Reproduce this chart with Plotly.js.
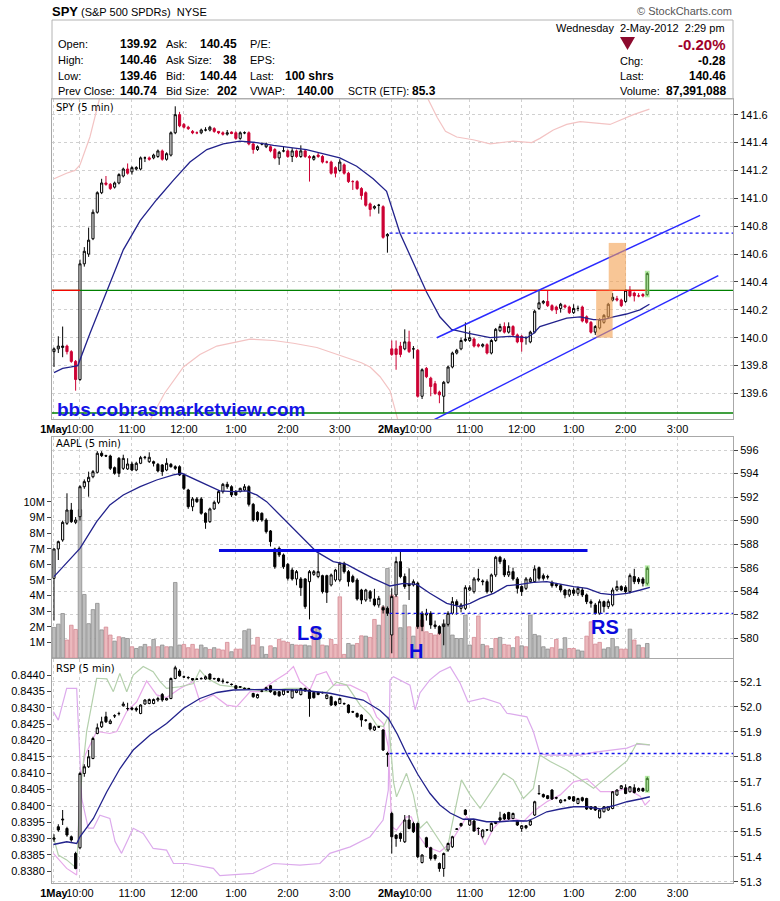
<!DOCTYPE html>
<html><head><meta charset="utf-8">
<script src="https://cdn.plot.ly/plotly-3.0.1.min.js"></script>
<style>html,body{margin:0;padding:0;background:#fff;}#chart{width:780px;height:901px;}</style>
</head><body><div id="chart"></div>
<script>
// ================= DATA =================
// 5-minute bars: 1 May 9:30 .. 4:00 (78 bars) then 2 May 9:30 .. 2:25 (60 bars)
const tickBars = [0,6,18,30,42,54,66,78,84,96,108,120,132,144];
const tickText = ['<b>1May</b>','10:00','11:00','12:00','1:00','2:00','3:00','<b>2May</b>','10:00','11:00','12:00','1:00','2:00','3:00'];

// ---- SPY ----
const spyOpen = [139.90,139.92,139.93,139.94,139.90,139.83,139.70,140.53,140.60,140.71,
140.90,141.04,141.11,141.10,141.08,141.11,141.16,141.21,141.19,141.21,
141.21,141.29,141.29,141.29,141.30,141.34,141.28,141.31,141.47,141.60,
141.53,141.51,141.48,141.47,141.47,141.49,141.49,141.50,141.48,141.47,
141.46,141.475,141.47,141.43,141.47,141.47,141.39,141.35,141.39,141.37,
141.37,141.35,141.29,141.34,141.34,141.30,141.34,141.30,141.34,141.30,
141.28,141.31,141.30,141.26,141.26,141.22,141.20,141.24,141.18,141.12,
141.12,141.07,141.04,140.96,140.93,140.95,140.94,140.73,
139.92,139.92,139.94,139.92,139.97,139.92,139.91,139.58,139.78,139.71,
139.67,139.61,139.58,139.68,139.79,139.89,139.92,139.98,139.98,139.99,
139.95,139.94,139.95,139.89,139.98,140.05,140.08,140.04,140.08,140.02,
140.01,140.00,139.97,140.04,140.21,140.25,140.26,140.23,140.22,140.21,
140.23,140.22,140.18,140.21,140.22,140.15,140.11,140.04,140.07,140.11,
140.15,140.27,140.28,140.27,140.26,140.34,140.32,140.30,140.31,140.31];
const spyHigh = [139.93,140.01,140.08,139.95,139.91,139.84,140.56,140.65,140.79,140.92,
141.05,141.14,141.16,141.11,141.12,141.18,141.22,141.25,141.23,141.23,
141.30,141.30,141.30,141.32,141.35,141.35,141.33,141.48,141.66,141.62,
141.54,141.52,141.49,141.48,141.50,141.51,141.52,141.51,141.48,141.48,
141.49,141.48,141.48,141.48,141.48,141.48,141.40,141.38,141.40,141.40,
141.38,141.36,141.34,141.37,141.35,141.36,141.35,141.38,141.35,141.31,
141.31,141.33,141.31,141.27,141.27,141.23,141.28,141.25,141.19,141.13,
141.13,141.08,141.05,140.97,140.95,140.96,140.95,140.75,
139.98,139.98,139.97,140.06,140.05,139.94,139.92,139.78,139.79,139.72,
139.69,139.62,139.69,139.80,139.90,139.92,140.00,140.11,140.05,140.00,
139.96,139.96,139.96,139.99,140.07,140.10,140.11,140.11,140.09,140.03,
140.02,140.01,140.05,140.20,140.34,140.27,140.34,140.24,140.23,140.25,
140.24,140.23,140.24,140.23,140.23,140.16,140.12,140.09,140.14,140.17,
140.25,140.32,140.30,140.28,140.35,140.37,140.33,140.32,140.32,140.47];
const spyLow = [139.79,139.89,139.86,139.88,139.82,139.62,139.69,140.51,140.58,140.70,
140.89,141.03,141.09,141.06,141.07,141.10,141.15,141.17,141.17,141.20,
141.20,141.26,141.27,141.28,141.29,141.27,141.27,141.30,141.46,141.51,
141.50,141.49,141.46,141.46,141.46,141.48,141.48,141.47,141.46,141.45,
141.45,141.46,141.42,141.42,141.46,141.38,141.32,141.34,141.38,141.36,
141.33,141.28,141.24,141.33,141.29,141.26,141.29,141.29,141.29,141.12,
141.27,141.29,141.25,141.25,141.17,141.15,141.19,141.17,141.11,141.06,
141.06,140.99,140.94,140.87,140.92,140.89,140.71,140.61,
139.87,139.77,139.86,139.91,139.89,139.85,139.57,139.56,139.71,139.58,
139.59,139.53,139.46,139.67,139.78,139.88,139.91,139.97,139.97,139.93,
139.93,139.93,139.88,139.88,139.97,140.04,140.03,140.03,140.01,139.96,
139.90,139.95,139.96,140.03,140.20,140.24,140.22,140.19,140.17,140.18,
140.21,140.17,140.17,140.19,140.11,140.10,140.03,140.02,140.06,140.10,
140.14,140.26,140.26,140.22,140.25,140.29,140.26,140.29,140.29,140.30];
const spyClose = [139.92,139.94,139.94,139.90,139.83,139.70,140.53,140.62,140.70,140.90,
141.04,141.11,141.10,141.07,141.11,141.17,141.21,141.18,141.22,141.22,
141.29,141.29,141.28,141.31,141.34,141.28,141.32,141.47,141.60,141.52,
141.51,141.50,141.47,141.47,141.49,141.49,141.51,141.48,141.47,141.46,
141.47,141.465,141.43,141.47,141.47,141.39,141.35,141.37,141.39,141.39,
141.34,141.29,141.33,141.34,141.30,141.34,141.30,141.34,141.30,141.29,
141.30,141.30,141.26,141.26,141.18,141.18,141.26,141.18,141.12,141.12,
141.07,141.02,140.95,140.92,140.94,140.95,140.72,140.74,
139.88,139.88,139.88,139.97,139.90,139.92,139.58,139.77,139.72,139.65,
139.60,139.59,139.68,139.79,139.89,139.91,139.98,139.99,140.00,139.94,
139.94,139.95,139.89,139.98,140.06,140.08,140.04,140.08,140.02,139.97,
139.97,140.00,140.04,140.19,140.25,140.26,140.23,140.20,140.20,140.24,
140.22,140.18,140.21,140.21,140.12,140.11,140.04,140.08,140.13,140.16,
140.24,140.29,140.27,140.23,140.34,140.30,140.30,140.30,140.30,140.46];
// SPY moving average [bar, price]
const spyMA = [[0,139.75],[2,139.78],[4,139.79],[5.5,139.80],[8.3,140.03],[12.2,140.34],[16.0,140.63],[19.9,140.84],[23.7,140.99],[27.6,141.13],[31.4,141.26],[35.3,141.35],[39.1,141.39],[42.9,141.41],[46.8,141.40],[50.7,141.38],[58.3,141.35],[66.0,141.29],[69.9,141.23],[73.7,141.14],[76.8,141.05],[79.9,140.75],[83.7,140.49],[86.0,140.33],[89.1,140.15],[91.8,140.06],[96.1,140.03],[100.7,140.00],[105.3,140.01],[109.2,140.00],[110.7,140.03],[112.2,140.08],[115.3,140.11],[118.4,140.14],[121.5,140.15],[124.6,140.13],[126.9,140.13],[129.2,140.15],[132.2,140.17],[135.3,140.20],[137.5,140.24]];
// SPY pale bands [bar, price]; null splits the sessions
const spyBandUpper = [[0,141.14],[2.9,141.18],[4.85,141.20],[6.0,141.24],[8.3,141.44],[10.6,141.71],[12,141.90],null,
 [85.5,141.90],[86.4,141.71],[88.5,141.58],[90.4,141.48],[93.0,141.44],[96.8,141.42],[100.7,141.39],[103.8,141.40],[106.0,141.41],[110.3,141.40],[112.2,141.43],[115.3,141.49],[118.4,141.53],[121.5,141.55],[124.6,141.54],[128.4,141.53],[130.7,141.56],[133.8,141.60],[137.5,141.64]];
const spyBandLower = [[22.2,139.41],[25.5,139.60],[29.9,139.79],[33.7,139.88],[37.6,139.94],[45.3,139.99],[50.7,139.98],[55.3,139.96],[60.7,139.93],[64.5,139.89],[68.4,139.85],[71.0,139.82],[73.0,139.79],[75.3,139.72],[77.6,139.62],[79.4,139.41]];
const spyLevel = 140.34, spyLowLine = 139.46, spyPrevClose = 140.75;
const spyRedSegments = [[-0.46,6],[78,137]];
const spyChannel = [[88.4,140.00,149.2,140.878],[86.4,139.39,153.4,140.445]];
const spyBoxX0 = [125.2,128.1], spyBoxX1 = [129.0,132.1], spyBoxY0 = [140.00,140.34], spyBoxY1 = [140.34,140.68];

// ---- AAPL ----
const aaplOpen = [585.09,587.59,588.35,589.77,590.90,589.85,590.33,592.88,593.31,593.73,
594.10,595.72,595.52,595.49,594.50,595.29,594.44,594.39,594.81,594.30,
594.87,595.35,595.01,595.01,594.78,594.73,594.30,594.78,594.58,594.58,
593.88,592.60,591.18,591.84,591.84,590.62,589.91,590.99,591.55,592.46,
593.08,592.88,592.46,592.46,592.60,592.88,591.38,590.70,590.62,590.05,
589.12,587.59,587.64,587.08,586.28,585.80,585.04,585.04,585.04,584.81,
585.43,585.24,585.32,585.32,584.53,584.95,584.95,586.37,585.66,585.24,
584.95,584.10,583.25,583.96,583.34,582.83,582.60,582.54,
580.28,583.68,586.51,585.24,584.60,584.53,584.67,582.12,581.98,582.12,
581.13,580.99,580.99,581.18,582.12,583.11,582.54,582.54,584.10,583.96,
584.95,584.87,584.81,583.96,585.38,586.88,586.65,585.38,585.66,585.04,
584.39,584.24,584.81,584.81,586.00,585.32,585.24,584.75,584.58,584.47,
584.10,583.68,584.10,583.82,584.10,583.68,583.11,582.83,582.12,583.11,
582.69,582.83,584.10,584.39,584.33,583.96,585.24,585.04,585.04,584.67];
const aaplHigh = [587.64,588.30,590.00,592.32,591.50,590.30,593.00,593.50,594.16,594.30,
595.90,595.90,595.60,595.60,594.60,595.40,595.60,595.30,595.00,595.00,
595.50,595.50,595.80,595.10,594.90,594.80,595.30,594.90,594.70,594.70,
594.00,592.70,592.00,592.00,592.00,590.70,591.10,591.70,592.60,593.20,
593.30,593.00,592.60,592.80,593.10,593.00,591.50,590.80,590.70,590.20,
589.20,587.70,587.80,587.20,586.40,586.00,585.80,585.20,585.10,585.80,
585.80,587.22,585.40,585.40,585.50,585.90,586.50,586.50,585.80,585.40,
585.10,584.20,584.20,584.10,584.20,583.60,582.80,582.70,
584.24,586.93,587.36,585.50,585.94,585.00,584.80,582.30,582.50,582.30,
581.50,581.10,581.60,582.30,583.50,583.30,583.00,584.50,584.50,585.20,
585.90,585.00,585.00,585.50,587.00,587.00,586.80,586.20,586.00,585.20,
584.50,585.20,585.20,586.20,586.10,585.50,585.40,584.90,584.70,584.60,
584.20,584.20,584.30,584.40,584.30,583.80,583.30,583.00,583.30,583.20,
583.30,584.30,584.90,584.50,584.50,585.50,585.90,585.20,585.20,586.10];
const aaplLow = [581.50,586.65,588.20,589.63,589.80,589.70,590.00,592.70,592.03,593.60,
594.00,595.40,595.40,594.30,593.90,593.70,594.30,594.30,594.20,594.20,
594.80,595.20,594.90,594.60,594.10,593.80,594.20,594.50,594.30,593.80,
592.60,591.00,590.80,591.50,590.50,589.30,589.80,590.90,591.40,592.30,
592.70,592.00,592.10,592.40,592.50,591.20,589.90,589.90,589.90,588.90,
587.80,585.90,586.90,585.90,584.90,584.90,584.50,583.60,582.50,581.60,
585.30,585.10,583.80,583.00,584.40,584.80,584.80,585.50,584.40,584.70,
583.20,582.90,583.10,583.10,582.70,582.60,582.10,581.90,
578.72,583.50,585.10,584.20,583.25,584.40,580.80,580.60,581.50,580.80,
580.80,580.30,579.40,581.00,582.00,582.00,582.20,582.40,584.00,583.80,
584.80,584.50,583.80,583.80,585.20,586.30,585.20,585.20,584.90,583.80,
583.60,584.10,584.70,584.70,584.90,584.90,585.00,584.30,584.30,583.90,
583.40,583.50,583.60,583.60,583.50,582.90,582.60,582.00,582.00,582.20,
582.50,582.70,584.00,584.00,583.80,583.80,584.60,584.60,584.40,584.50];
const aaplClose = [587.59,588.21,589.85,590.90,589.91,590.05,592.88,593.31,593.68,594.16,
595.72,595.52,595.49,594.44,594.02,594.02,595.29,594.81,594.30,594.87,
595.35,595.38,595.38,594.87,594.22,594.16,594.87,594.58,594.44,593.88,
592.74,591.18,591.84,591.61,590.62,589.85,590.99,591.55,592.46,593.08,
592.88,592.18,592.18,592.74,592.88,591.38,590.05,590.05,590.05,589.06,
588.21,586.08,587.08,586.08,585.09,585.04,585.66,584.30,582.69,585.66,
585.66,585.66,583.96,583.90,585.38,585.80,586.37,585.66,584.81,584.81,
583.34,583.25,584.10,583.39,582.83,583.39,582.40,582.12,
583.54,586.51,585.24,584.39,584.47,584.81,580.99,580.99,582.12,581.13,
580.99,580.42,581.18,582.12,583.11,582.83,582.83,584.30,584.30,585.04,
585.04,584.81,583.96,585.38,586.88,586.51,585.38,585.66,585.04,584.24,
583.96,585.04,585.04,585.89,585.09,585.09,585.20,584.47,584.47,584.10,
583.68,584.10,583.82,584.24,583.68,583.11,582.97,582.12,583.11,582.69,
583.11,584.10,584.39,584.10,583.96,585.32,584.81,584.81,584.67,585.94];
// AAPL volume in millions, and bar tint (g = grey/up, p = pink/down)
const aaplVolume = [1.96,2.17,2.85,1.15,2.10,1.83,9.50,4.07,2.20,3.10,
3.50,1.80,1.98,1.47,1.08,1.36,1.30,1.25,0.72,0.61,
0.72,0.87,0.72,1.19,0.72,0.83,0.72,0.72,4.84,0.83,
0.87,0.66,0.87,0.57,0.83,0.66,0.55,0.66,0.57,0.51,
1.00,0.40,0.57,0.57,1.75,1.85,0.83,1.32,0.72,0.23,
0.78,0.66,1.20,1.08,1.00,0.87,0.83,0.83,0.83,0.78,
2.00,1.90,0.83,0.78,1.19,0.87,3.92,0.23,0.93,0.83,
0.93,1.42,1.40,1.32,2.47,2.10,3.28,5.74,
4.03,3.93,1.94,3.39,2.00,1.40,2.00,2.43,1.68,1.57,
1.47,1.57,2.20,2.75,1.47,1.25,1.25,2.75,0.83,1.32,
2.69,0.87,0.78,0.61,1.25,1.32,0.87,0.83,0.66,1.36,
0.78,0.72,2.75,1.51,1.42,0.72,0.57,0.66,1.19,0.57,
1.30,0.61,0.61,0.51,0.44,1.40,2.32,0.89,1.00,0.57,
0.66,1.25,0.72,0.57,0.57,1.85,1.15,0.83,0.66,0.93];
const aaplVolumeTint = "gggpppggggggppgpggpgggpgpgpgggppppggpgpppgppggppggpgpppgppggpgpgppppggppgppgpg" +
                       "ppggpgppppppgggggggppgpgpgppgpgpgggggppggppggppppggggppgpgpg";
const volumeTicks = [1,2,3,4,5,6,7,8,9,10];
const aaplMA = [[0,585.24],[2.9,586.37],[6.0,587.64],[9.85,589.91],[12.9,591.33],[16.0,592.18],[19.9,592.88],[23.7,593.45],[27.6,593.88],[29.5,594.02],[32.2,593.59],[35.3,593.03],[38.3,592.52],[41.4,592.46],[44.5,592.52],[46.8,592.18],[49.1,591.61],[52.9,590.19],[56.8,588.78],[60.6,587.36],[64.5,586.51],[67.6,586.28],[70.7,585.66],[73.7,585.09],[77.6,584.44],[80.7,584.67],[83.8,584.58],[86.8,583.82],[90.7,582.97],[93.7,582.69],[96.1,582.97],[98.4,583.39],[101.5,583.82],[104.6,584.47],[107.7,584.58],[110.7,584.75],[113.8,584.81],[116.9,584.58],[120.0,584.39],[123.1,584.24],[126.2,583.82],[129.3,583.68],[132.3,583.82],[135.4,584.10],[137.6,584.33]];
const aaplNeckline = [38.1,123.2,587.45];
const aaplPrevClose = 582.12;
const patternText = ['LS','H','RS'], patternBar = [59.1,83.6,127.3], patternPrice = [580.45,578.92,580.96];

// ---- RSP ----
const rspOpen = [51.47,51.52,51.547,51.513,51.48,51.413,51.436,51.733,51.76,51.793,
51.893,51.92,51.96,51.933,51.963,51.972,52.004,51.992,51.995,51.993,
51.973,52.011,52.013,52.013,52.027,52.049,52.027,52.033,52.113,52.143,
52.12,52.116,52.113,52.111,52.113,52.111,52.131,52.113,52.113,52.103,
52.098,52.09,52.084,52.08,52.074,52.073,52.053,52.036,52.063,52.076,
52.084,52.06,52.06,52.049,52.06,52.036,52.057,52.049,52.063,52.067,
52.057,52.049,52.057,52.033,52.04,52.02,52.013,52.013,52.007,51.98,
51.973,51.967,51.947,51.933,51.907,51.92,51.907,51.809,
51.573,51.487,51.493,51.46,51.547,51.533,51.533,51.377,51.476,51.436,
51.407,51.373,51.353,51.427,51.44,51.51,51.533,51.587,51.527,51.543,
51.514,51.48,51.508,51.503,51.533,51.556,51.569,51.577,51.553,51.543,
51.513,51.524,51.527,51.567,51.652,51.649,51.644,51.667,51.636,51.617,
51.627,51.64,51.64,51.613,51.636,51.633,51.60,51.60,51.556,51.58,
51.587,51.593,51.647,51.673,51.676,51.66,51.676,51.663,51.673,51.663];
const rspHigh = [51.49,51.53,51.587,51.52,51.485,51.42,51.74,51.77,51.827,51.88,
51.933,51.96,51.98,51.95,51.97,51.98,52.02,52.016,52.0,52.0,
52.01,52.03,52.033,52.033,52.04,52.055,52.036,52.117,52.164,52.15,
52.125,52.122,52.115,52.115,52.118,52.125,52.133,52.116,52.116,52.113,
52.10,52.093,52.087,52.083,52.077,52.076,52.056,52.052,52.068,52.08,
52.087,52.063,52.063,52.07,52.064,52.07,52.07,52.076,52.077,52.07,
52.06,52.06,52.06,52.05,52.044,52.024,52.036,52.017,52.01,51.984,
51.977,51.97,51.95,51.937,51.925,51.923,51.91,51.82,
51.58,51.49,51.497,51.567,51.567,51.54,51.537,51.41,51.48,51.44,
51.41,51.377,51.417,51.457,51.484,51.515,51.536,51.59,51.55,51.547,
51.517,51.51,51.51,51.537,51.543,51.58,51.575,51.58,51.577,51.547,
51.527,51.527,51.547,51.624,51.687,51.653,51.647,51.67,51.64,51.63,
51.63,51.643,51.643,51.636,51.64,51.636,51.603,51.603,51.59,51.603,
51.603,51.663,51.67,51.687,51.69,51.683,51.69,51.677,51.677,51.72];
const rspLow = [51.46,51.50,51.527,51.48,51.46,51.35,51.43,51.72,51.755,51.79,
51.89,51.915,51.935,51.93,51.955,51.965,52.0,51.985,51.985,51.98,
51.97,52.008,52.01,52.01,52.02,52.02,52.025,52.03,52.11,52.12,
52.115,52.11,52.105,52.107,52.11,52.108,52.108,52.108,52.10,52.093,
52.093,52.085,52.07,52.075,52.07,52.068,52.036,52.033,52.058,52.064,
52.056,52.045,52.04,52.045,52.055,52.032,52.054,52.045,52.06,51.96,
52.033,52.046,52.053,52.03,52.003,52.003,52.01,52.008,51.973,51.975,
51.956,51.92,51.94,51.905,51.903,51.915,51.823,51.76,
51.413,51.44,51.46,51.455,51.51,51.495,51.395,51.373,51.435,51.385,
51.385,51.34,51.32,51.42,51.435,51.507,51.52,51.565,51.523,51.50,
51.487,51.473,51.503,51.50,51.53,51.543,51.547,51.547,51.55,51.523,
51.50,51.51,51.523,51.563,51.648,51.636,51.63,51.627,51.63,51.613,
51.62,51.627,51.62,51.61,51.62,51.587,51.587,51.583,51.553,51.577,
51.583,51.59,51.643,51.67,51.65,51.657,51.653,51.66,51.66,51.66];
const rspClose = [51.475,51.507,51.55,51.487,51.467,51.353,51.733,51.76,51.80,51.873,
51.916,51.94,51.94,51.943,51.964,51.973,52.011,51.993,51.99,51.987,
52.007,52.027,52.029,52.029,52.033,52.027,52.033,52.113,52.156,52.124,
52.119,52.117,52.107,52.11,52.112,52.12,52.111,52.112,52.103,52.102,
52.097,52.089,52.073,52.079,52.073,52.072,52.04,52.049,52.062,52.067,
52.06,52.049,52.044,52.067,52.059,52.067,52.067,52.073,52.073,52.033,
52.036,52.057,52.056,52.047,52.007,52.007,52.033,52.012,51.977,51.979,
51.96,51.947,51.946,51.911,51.92,51.919,51.827,51.813,
51.48,51.473,51.473,51.547,51.513,51.50,51.40,51.407,51.44,51.393,
51.393,51.353,51.413,51.453,51.48,51.511,51.524,51.569,51.547,51.503,
51.513,51.507,51.507,51.533,51.54,51.547,51.551,51.551,51.573,51.527,
51.524,51.516,51.544,51.62,51.653,51.64,51.633,51.631,51.635,51.627,
51.626,51.631,51.623,51.633,51.625,51.591,51.591,51.587,51.587,51.60,
51.60,51.66,51.667,51.684,51.653,51.68,51.657,51.673,51.663,51.713];
const rspMA = [[-0.15,51.449],[2.93,51.46],[5.24,51.453],[6.0,51.48],[9.1,51.553],[12.2,51.66],[15.25,51.753],[18.3,51.827],[22.2,51.887],[26.0,51.933],[29.9,51.993],[33.7,52.033],[37.6,52.057],[41.4,52.067],[49.1,52.069],[56.8,52.067],[63.7,52.054],[67.6,52.04],[71.4,52.027],[75.3,51.985],[77.2,51.954],[79.3,51.89],[81.4,51.813],[84.0,51.73],[86.8,51.654],[89.1,51.607],[91.5,51.575],[94.5,51.55],[96.9,51.551],[99.9,51.54],[103.0,51.54],[106.1,51.544],[109.2,51.543],[110.7,51.553],[113.8,51.58],[116.9,51.591],[120.0,51.60],[123.1,51.60],[126.2,51.591],[129.2,51.604],[132.3,51.62],[135.4,51.631],[137.6,51.64]];
const rspPrevClose = 51.813;
// left-scale lines (RSP relative line and its two envelopes)
const rspRatio = [[-0.15,0.83905],[1.0,0.83849],[2.93,0.83834],[5.24,0.83808],[6.0,0.84033],[7.54,0.84227],[9.85,0.8439],[12.2,0.84388],[13.7,0.84349],[15.2,0.84405],[16.8,0.84349],[18.3,0.844],[20.6,0.84426],[22.9,0.8441],[24.5,0.8438],[26.0,0.84359],[29.1,0.84364],[32.2,0.84374],[33.7,0.84415],[35.3,0.8439],[38.3,0.84369],[41.4,0.84364],[44.5,0.84359],[49.1,0.84349],[53.7,0.84359],[56.8,0.84359],[59.9,0.84349],[62.9,0.84347],[65.3,0.84378],[67.6,0.84369],[70.7,0.84308],[73.0,0.84278],[74.5,0.84247],[76.1,0.84242],[77.2,0.84272],[78.4,0.84073],[79.1,0.84027],[81.4,0.84099],[83.0,0.84033],[84.5,0.83931],[86.1,0.83951],[90.7,0.83859],[91.9,0.83941],[94.1,0.84079],[96.1,0.84033],[98.4,0.83992],[101.5,0.84053],[103.8,0.84099],[106.1,0.84079],[108.4,0.84022],[110.7,0.84053],[112.2,0.84155],[114.6,0.84135],[118.4,0.84109],[121.5,0.84082],[124.6,0.84053],[129.2,0.84104],[132.3,0.84137],[134.6,0.84191],[137.6,0.84186]];
const rspEnvA = [[-0.15,0.84288],[1.0,0.84262],[2.93,0.84359],[5.24,0.84359],[6.4,0.84022],[7.9,0.83931],[9.1,0.83931],[10.6,0.83971],[12.9,0.83961],[14.1,0.8389],[15.6,0.83854],[17.6,0.8391],[18.3,0.83931],[20.6,0.83915],[22.9,0.83869],[26.0,0.83864],[27.6,0.83823],[30.6,0.83823],[36.8,0.83808],[38.3,0.83786],[41.4,0.83788],[46.0,0.83793],[50.7,0.83823],[56.8,0.83818],[61.4,0.83823],[63.7,0.83854],[68.4,0.83874],[73.0,0.83905],[76.0,0.83956],[77.2,0.84048],[77.6,0.84385],[78.4,0.84395],[82.2,0.84369],[83.4,0.84293],[84.5,0.84345],[86.8,0.84385],[89.1,0.8441],[91.5,0.84425],[93.8,0.84375],[95.6,0.84318],[99.2,0.84329],[103.0,0.84313],[104.6,0.84283],[109.2,0.84272],[110.7,0.84227],[112.2,0.8416],[113.8,0.84155],[121.5,0.84155],[124.6,0.84163],[129.2,0.8417],[132.3,0.84176],[134.6,0.84188],[137.6,0.84186]];
const rspEnvB = [[-0.15,0.83854],[2.93,0.83808],[5.24,0.83788],[6.0,0.84073],[7.2,0.84155],[9.85,0.84227],[12.9,0.84221],[14.5,0.84227],[16.8,0.84288],[19.1,0.84318],[21.4,0.84382],[23.7,0.84339],[26.0,0.84331],[29.1,0.84359],[32.2,0.8438],[33.7,0.84318],[36.8,0.84339],[39.9,0.84308],[42.2,0.84303],[45.3,0.84349],[47.6,0.84349],[50.7,0.8438],[53.7,0.84405],[55.3,0.84426],[56.8,0.8438],[59.1,0.84354],[60.6,0.844],[62.9,0.8441],[64.5,0.84369],[68.4,0.84369],[72.2,0.84344],[74.5,0.84272],[76.0,0.84252],[77.2,0.8418],[77.6,0.84058],[78.0,0.83936],[79.1,0.83925],[81.4,0.83966],[82.5,0.83966],[84.1,0.8391],[86.1,0.83874],[89.1,0.83859],[91.5,0.83885],[93.8,0.83936],[95.3,0.83966],[98.4,0.83915],[99.5,0.8388],[101.5,0.83931],[103.0,0.83951],[106.1,0.83961],[108.4,0.83951],[110.7,0.83982],[113.8,0.84012],[116.9,0.84033],[120.0,0.84073],[123.1,0.84082],[126.2,0.84043],[129.2,0.84043],[132.3,0.84053],[135.4,0.84028],[136.5,0.84002],[137.6,0.84017]];

// ---- quote header ----
const quoteLabels1 = ['Open:','High:','Low:','Prev Close:'];
const quoteValues1 = ['139.92','140.46','139.46','140.74'];
const quoteLabels2 = ['Ask:','Ask Size:','Bid:','Bid Size:'];
const quoteValues2 = ['140.45','38','140.44','202'];
const quoteLabels3 = ['P/E:','EPS:','Last:','VWAP:'];
const quoteValues3 = ['','','100 shrs','140.00'];
const sctrLabel = 'SCTR (ETF):', sctrValue = '85.3';
const quoteDate = 'Wednesday&nbsp;&nbsp;2-May-2012&nbsp;&nbsp;2:29 pm';
const pctChange = '-0.20%';
const rightLabels = ['Chg:','Last:','Volume:'];
const rightValues = ['-0.28','140.46','87,391,088'];

// ================= CHART =================
const W = 780, H = 901;
const fx = p => p / W, fy = p => 1 - p / H;
const FONT = 'Liberation Sans, Arial, sans-serif';
const bars = spyClose.map((_, i) => i);
const X0 = -0.46, X1 = 156.8;
const GRID = '#d0d0d0', BORDER = '#a8a8a8';
const xs = a => a.map(p => p ? p[0] : null), ys = a => a.map(p => p ? p[1] : null);

function candle(o, h, l, c, xa, ya, dnFill, dnLine) {
  return {type:'candlestick', x:bars, open:o, high:h, low:l, close:c, xaxis:xa, yaxis:ya,
    increasing:{fillcolor:'#ffffff', line:{color:'#000000', width:1}},
    decreasing:{fillcolor:dnFill, line:{color:dnLine, width:1}},
    whiskerwidth:0, hoverinfo:'skip', showlegend:false};
}
function line(pts, xa, ya, color, width, dash) {
  return {type:'scatter', mode:'lines', x:xs(pts), y:ys(pts), xaxis:xa, yaxis:ya,
    line:{color:color, width:width, dash:dash || 'solid'}, hoverinfo:'skip', showlegend:false, connectgaps:false};
}
const prevCloseLine = v => [[77.5, v], [X1, v]];
const volTint = aaplVolumeTint.split('');
const traces = [
  line(spyBandUpper, 'x', 'y', '#f3c3c3', 1.2),
  line(spyBandLower, 'x', 'y', '#f3c3c3', 1.2),
  line(prevCloseLine(spyPrevClose), 'x', 'y', '#1414f0', 1.3, '3px,3px'),
  line(spyMA, 'x', 'y', '#22228c', 1.3),
  candle(spyOpen, spyHigh, spyLow, spyClose, 'x', 'y', '#cc0033', '#cc0033'),
  {type:'bar', x:bars, y:aaplVolume, xaxis:'x2', yaxis:'y2', hoverinfo:'skip', showlegend:false,
   marker:{color:volTint.map(t => t === 'g' ? '#bdbdbd' : '#ebb9bd'),
           line:{color:volTint.map(t => t === 'g' ? '#8e8e8e' : '#d48a94'), width:0.8}}},
  line(prevCloseLine(aaplPrevClose), 'x2', 'y4', '#1414f0', 1.3, '3px,3px'),
  line(aaplMA, 'x2', 'y4', '#22228c', 1.3),
  candle(aaplOpen, aaplHigh, aaplLow, aaplClose, 'x2', 'y4', '#000000', '#000000'),
  line(rspEnvA, 'x3', 'y3', '#dcaaec', 1.2),
  line(rspEnvB, 'x3', 'y3', '#e7a9e9', 1.2),
  line(rspRatio, 'x3', 'y3', '#b4d0ac', 1.2),
  line(prevCloseLine(rspPrevClose), 'x3', 'y5', '#1414f0', 1.3, '3px,3px'),
  line(rspMA, 'x3', 'y5', '#22228c', 1.3),
  candle(rspOpen, rspHigh, rspLow, rspClose, 'x3', 'y5', '#000000', '#000000')
];

function xAxis(anchor, labels) {
  return {domain:[fx(52), fx(733)], anchor:anchor, range:[X0, X1], type:'linear',
    tickvals:tickBars, ticktext:tickText, showticklabels:labels, ticks:'', tickangle:0,
    tickfont:{family:FONT, size:11, color:'#000'},
    showgrid:true, gridcolor:GRID, griddash:'3px,3px', gridwidth:1, zeroline:false,
    showline:true, mirror:true, linecolor:BORDER, linewidth:1,
    rangeslider:{visible:false}, fixedrange:true};
}
function yRight(extra) {
  return Object.assign({side:'right', ticks:'outside', ticklen:4, tickcolor:'#444', tickwidth:1,
    tickfont:{family:FONT, size:11, color:'#000'}, showgrid:true, gridcolor:GRID, griddash:'3px,3px',
    zeroline:false, showline:true, mirror:true, linecolor:BORDER, fixedrange:true}, extra);
}
function yLeft(extra) {
  return Object.assign({side:'left', ticks:'outside', ticklen:4, tickcolor:'#444', tickwidth:1,
    tickfont:{family:FONT, size:11, color:'#000'}, showgrid:false, zeroline:false,
    showline:true, mirror:true, linecolor:BORDER, fixedrange:true}, extra);
}

const last = spyClose.length - 1;
const shapes = [];
// header box
shapes.push({type:'rect', xref:'paper', yref:'paper', x0:fx(52), x1:fx(733), y0:fy(99), y1:fy(20), line:{color:'#b4b4b4', width:1}});
// down triangle
shapes.push({type:'path', xref:'paper', yref:'paper', path:`M ${fx(620)} ${fy(37)} L ${fx(635)} ${fy(37)} L ${fx(627.5)} ${fy(50)} Z`, fillcolor:'#8c0a2e', line:{width:0}});
// SPY levels
shapes.push({type:'line', xref:'x', yref:'y', x0:X0, x1:X1, y0:spyLevel, y1:spyLevel, line:{color:'#008000', width:1.3}});
spyRedSegments.forEach(s => shapes.push({type:'line', xref:'x', yref:'y', x0:s[0], x1:s[1], y0:spyLevel, y1:spyLevel, line:{color:'#ff0000', width:1.3}}));
shapes.push({type:'line', xref:'x', yref:'y', x0:X0, x1:X1, y0:spyLowLine, y1:spyLowLine, line:{color:'#008000', width:1.3}});
spyChannel.forEach(c => shapes.push({type:'line', xref:'x', yref:'y', x0:c[0], y0:c[1], x1:c[2], y1:c[3], line:{color:'#2a2aff', width:1.5}}));
spyBoxX0.forEach((v, i) => shapes.push({type:'rect', xref:'x', yref:'y', x0:v, x1:spyBoxX1[i], y0:spyBoxY0[i], y1:spyBoxY1[i], fillcolor:'rgb(243,160,80)', opacity:0.6, line:{width:0}}));
// AAPL neckline
shapes.push({type:'line', xref:'x2', yref:'y4', x0:aaplNeckline[0], x1:aaplNeckline[1], y0:aaplNeckline[2], y1:aaplNeckline[2], line:{color:'#0a0ae0', width:3}});
// last bar highlight
[['x','y',spyHigh,spyLow],['x2','y4',aaplHigh,aaplLow],['x3','y5',rspHigh,rspLow]].forEach(([xa, ya, hi, lo]) => {
  const pad = (hi[last] - lo[last]) * 0.06;
  shapes.push({type:'rect', xref:xa, yref:ya, x0:last - 0.55, x1:last + 0.55, y0:lo[last] - pad, y1:hi[last] + pad,
    fillcolor:'rgb(120,220,90)', opacity:0.55, line:{width:0}});
});

const ann = [];
function txt(t, x, y, opts) {
  ann.push(Object.assign({text:t, xref:'paper', yref:'paper', x:fx(x), y:fy(y), showarrow:false,
    xanchor:'left', yanchor:'middle', font:{family:FONT, size:11, color:'#000'}, borderpad:0}, opts || {}));
}
txt('<b>SPY</b>', 51, 11, {font:{family:FONT, size:13, color:'#000'}});
txt('(S&amp;P 500 SPDRs)&nbsp; NYSE', 80, 12, {font:{family:FONT, size:11, color:'#000'}});
txt('© StockCharts.com', 733, 11, {xanchor:'right', font:{family:FONT, size:11, color:'#555'}});
const rowsY = [44, 60, 76, 91];
rowsY.forEach((y, i) => {
  txt(quoteLabels1[i], 57, y);
  txt('<b>' + quoteValues1[i] + '</b>', 158, y, {xanchor:'right', font:{family:FONT, size:12, color:'#000'}});
  txt(quoteLabels2[i], 165, y);
  txt('<b>' + quoteValues2[i] + '</b>', 238, y, {xanchor:'right', font:{family:FONT, size:12, color:'#000'}});
  txt(quoteLabels3[i], 249, y);
  if (quoteValues3[i]) txt('<b>' + quoteValues3[i] + '</b>', 335, y, {xanchor:'right', font:{family:FONT, size:12, color:'#000'}});
});
txt(sctrLabel, 347, 91, {font:{family:FONT, size:10.5, color:'#000'}});
txt('<b>' + sctrValue + '</b>', 437, 91, {xanchor:'right', font:{family:FONT, size:12, color:'#000'}});
txt(quoteDate, 726, 28, {xanchor:'right'});
txt('<b>' + pctChange + '</b>', 727, 44, {xanchor:'right', font:{family:FONT, size:15, color:'#a0002a'}});
[61, 76, 91].forEach((y, i) => {
  txt(rightLabels[i], 619, y);
  txt('<b>' + rightValues[i] + '</b>', 727, y, {xanchor:'right', font:{family:FONT, size:12, color:'#000'}});
});
// panel titles
txt('SPY (5 min)', 55, 107, {font:{family:'DejaVu Sans, sans-serif', size:10, color:'#000'}});
txt('AAPL (5 min)', 55, 443, {font:{family:'DejaVu Sans, sans-serif', size:10, color:'#000'}});
txt('RSP (5 min)', 55, 668, {font:{family:'DejaVu Sans, sans-serif', size:10, color:'#000'}});
txt('<b>bbs.cobrasmarketview.com</b>', 56, 410, {font:{family:FONT, size:19, color:'#1414e6'}});
patternText.forEach((t, i) => ann.push({text:'<b>' + t + '</b>', xref:'x2', yref:'y4', x:patternBar[i], y:patternPrice[i],
  showarrow:false, xanchor:'center', yanchor:'middle', font:{family:FONT, size:20, color:'#0a0adc'}}));

const layout = {
  width:W, height:H, margin:{l:0, r:0, t:0, b:0}, paper_bgcolor:'#ffffff', plot_bgcolor:'#ffffff',
  showlegend:false, hovermode:false, bargap:0.18, font:{family:FONT, size:11, color:'#000'},
  xaxis:xAxis('y', true), xaxis2:xAxis('y2', false), xaxis3:xAxis('y3', true),
  yaxis:yRight({domain:[fy(419), fy(99)], anchor:'x', range:[139.4168, 141.7124], tick0:139.6, dtick:0.2, tickformat:'.1f'}),
  yaxis2:yLeft({domain:[fy(658), fy(437)], anchor:'x2', range:[0, 14.16], tickvals:volumeTicks, ticktext:volumeTicks.map(v => v + 'M')}),
  yaxis4:yRight({overlaying:'y2', anchor:'x2', range:[578.32, 597.105], tick0:580, dtick:2}),
  yaxis3:yLeft({domain:[fy(883), fy(659)], anchor:'x3', range:[0.837633, 0.84449], tick0:0.838, dtick:0.0005, tickformat:'.4f'}),
  yaxis5:yRight({overlaying:'y3', anchor:'x3', range:[51.295, 52.191], tick0:51.4, dtick:0.1, tickformat:'.1f'}),
  shapes:shapes, annotations:ann
};
Plotly.newPlot('chart', traces, layout, {staticPlot:true, displayModeBar:false});
</script></body></html>
